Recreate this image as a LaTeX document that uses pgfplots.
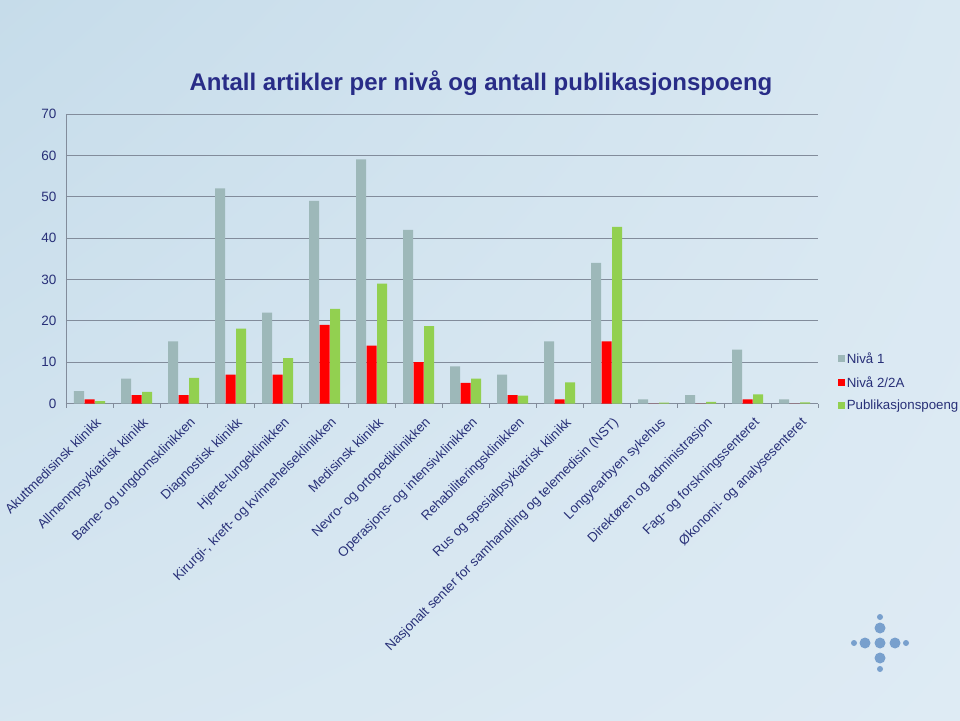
\documentclass[border=0pt]{standalone}
\usepackage{fontspec}
\setmainfont{Liberation Sans}
\usepackage{pgfplots}
\usepackage{pgfplotstable}
\usetikzlibrary{shadings}
\pgfplotsset{compat=1.18}
\definecolor{gbar}{RGB}{157,184,185}
\definecolor{rbar}{RGB}{255,0,0}
\definecolor{pbar}{RGB}{146,208,80}
\definecolor{navy}{RGB}{40,48,120}
\definecolor{titlec}{RGB}{40,44,135}
\definecolor{gridc}{RGB}{130,140,155}
\definecolor{bgtop}{RGB}{198,220,234}
\definecolor{bgbot}{RGB}{222,235,244}
\definecolor{logoc}{RGB}{120,160,205}

\pgfplotstableread{
x n1 n2 pp
0 3 1 0.6
1 6 2 2.8
2 15 2 6.2
3 52 7 18.1
4 22 7 11.0
5 49 19 22.9
6 59 14 29.0
7 42 10 18.7
8 9 5 6.0
9 7 2 1.9
10 15 1 5.1
11 34 15 42.7
12 1 0 0.2
13 2 0 0.4
14 13 1 2.2
15 1 0 0.3
}\data

\begin{document}
\begin{tikzpicture}[x=1pt,y=1pt]
\path[use as bounding box] (0,0) rectangle (960,720);
\shade[upper left=bgtop, upper right=bgbot!80!bgtop, lower left=bgbot!70!bgtop, lower right=bgbot] (0,0) rectangle (960,720);
% logo decoration
\foreach \dx/\dy/\r in {0/0/5.5, -15/0/5.5, 15/0/5.5, 0/15/5.5, 0/-15/5.5, -26/0/3, 26/0/3, 0/26/3, 0/-26/3}{
  \fill[logoc] (880+\dx, 77+\dy) circle (\r);
}
\node[font=\fontsize{24}{28}\selectfont\bfseries, text=titlec] at (481,637) {Antall artikler per nivå og antall publikasjonspoeng};
\begin{axis}[
  at={(66pt,316.5pt)}, anchor=south west,
  scale only axis, width=752pt, height=289.5pt,
  xmin=-0.5, xmax=15.5, ymin=0, ymax=70,
  ybar=0.5pt, bar width=10pt,
  axis lines*=left,
  axis line style={gridc},
  ymajorgrids, grid style={gridc, line width=0.8pt},
  ytick={0,10,...,70},
  xtick={0,...,15},
  xticklabels={Akuttmedisinsk klinikk, Allmennpsykiatrisk klinikk, Barne- og ungdomsklinikken, Diagnostisk klinikk, Hjerte-lungeklinikken, {Kirurgi-, kreft- og kvinnehelseklinikken}, Medisinsk klinikk, Nevro- og ortopediklinikken, Operasjons- og intensivklinikken, Rehabiliteringsklinikken, Rus og spesialpsykiatrisk klinikk, Nasjonalt senter for samhandling og telemedisin (NST), Longyearbyen sykehus, Direktøren og administrasjon, Fag- og forskningssenteret, Økonomi- og analysesenteret},
  minor xtick={-0.5,0.5,...,15.5},
  major tick length=0pt,
  minor tick length=4pt,
  tick align=outside,
  xtick pos=bottom, ytick pos=left,
  minor tick style={gridc},
  xticklabel style={rotate=45, anchor=north east, font=\fontsize{13.3}{15}\selectfont, text=navy, inner sep=1pt, xshift=-4pt, yshift=-12pt},
  yticklabel style={font=\fontsize{13.5}{15}\selectfont, text=navy, xshift=-6pt},
  /pgf/number format/assume math mode=true,
  legend style={at={(1.026,0.183)}, anchor=north west, draw=none, fill=none, font=\fontsize{13.3}{15}\selectfont, text=navy, row sep=7.5pt, inner sep=0pt},
  legend cell align=left,
  legend image code/.code={\fill[#1] (0pt,-3.5pt) rectangle (7pt,3.5pt);},
]
\addplot[fill=gbar, draw=none] table[x=x,y=n1]{\data};
\addplot[fill=rbar, draw=none] table[x=x,y=n2]{\data};
\addplot[fill=pbar, draw=none] table[x=x,y=pp]{\data};
\legend{Nivå 1, Nivå 2/2A, Publikasjonspoeng}
\end{axis}
\end{tikzpicture}
\end{document}
